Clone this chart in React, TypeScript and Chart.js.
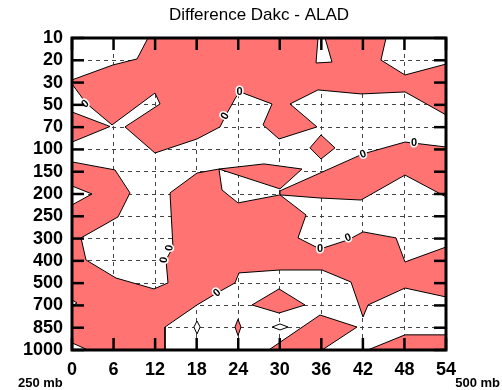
import React, { useEffect, useRef } from "react";
import { Chart, registerables } from "chart.js";
Chart.register(...registerables);

const TITLE = "Difference Dakc - ALAD";
const LEFT_NOTE = "250 mb";
const RIGHT_NOTE = "500 mb";
const HOURS = [0, 6, 12, 18, 24, 30, 36, 42, 48, 54];
const LEVELS = ["10", "20", "30", "50", "70", "100", "150", "200", "250", "300", "400", "500", "700", "850", "1000"];

// Contour polygons, each vertex = [forecast hour, level index (0 = 10 mb)]
const POS_UPPER: [number, number][] = [
  [0, 2.06], [2.02, 2.92], [5.78, 3.9], [11.98, 2.47], [12.71, 2.96], [7.65, 3.99],
  [11.98, 5.16], [18.05, 4.53], [21.37, 3.99], [22.24, 3.45], [23.68, 2.65], [24.26, 2.42],
  [28.88, 2.96], [27.58, 3.9], [29.89, 4.53], [35.37, 3.99], [31.48, 2.96], [35.52, 2.33],
  [41.73, 2.51], [48.08, 2.42], [54, 3.45], [54, 1.17], [48.08, 1.66], [44.61, 0.99],
  [45.34, 0], [10.97, 0], [9.39, 0.94], [5.92, 1.21], [0, 1.88],
];
const POS_LEFT_WEDGE: [number, number][] = [[0, 3.32], [5.49, 3.97], [0, 4.67]];
const POS_MAIN: [number, number][] = [
  [0, 5.56], [6.21, 5.92], [8.37, 6.95], [6.64, 8.03], [1.3, 8.97], [2.02, 9.96],
  [6.35, 10.77], [11.84, 11.26], [13.86, 10.99], [13.57, 9.96], [14.58, 9.38], [14.15, 6.95],
  [18.05, 6.06], [21.22, 5.88], [21.66, 6.82], [23.97, 7.4], [30.03, 7.04], [33.79, 7.94],
  [32.63, 8.97], [35.81, 9.47], [39.85, 9.06], [42.02, 8.7], [46.78, 8.97], [48.08, 10.05],
  [54, 9.38], [54, 11.62], [48.08, 11.22], [42.74, 11.98], [42.02, 12.52], [40.28, 10.95],
  [36.1, 10.41], [30.03, 10.41], [24.11, 10.54], [23.53, 10.99], [20.94, 11.44], [18.05, 11.98],
  [13.43, 12.97], [13.43, 14], [2.31, 14], [0, 13.68], [0, 12.02], [0.72, 11.89], [0, 11.75],
  [0, 7.49], [2.89, 7.0], [0, 6.64],
];
const POS_KITE: [number, number][] = [[21.22, 5.88], [27.72, 5.65], [33.21, 5.88], [30.03, 6.77]];
const POS_BAND: [number, number][] = [
  [30.03, 6.86], [42.02, 5.2], [48.08, 4.67], [54, 4.89], [54, 7.13], [48.08, 6.15],
  [41.73, 7.27], [35.81, 7.18], [30.03, 7.04],
];
const POS_DIAMOND_100: [number, number][] = [[34.36, 4.93], [35.95, 4.35], [37.97, 4.93], [35.95, 5.43]];
const POS_DIAMOND_700: [number, number][] = [[25.99, 11.98], [29.89, 11.26], [33.64, 11.98], [29.89, 12.34]];
const POS_LOWER_MID: [number, number][] = [[28.4, 14], [35.81, 12.43], [41.15, 12.97], [36.1, 14]];
const POS_LOWER_RIGHT: [number, number][] = [[42.7, 14], [48.08, 13.32], [54, 13.32], [54, 14]];
const POS_BLOB_24: [number, number][] = [[23.97, 12.62], [24.4, 12.97], [23.97, 13.35], [23.53, 12.97]];
const NEG_TOP_36: [number, number][] = [[35.52, 0], [36.53, 0], [37.54, 1.08], [35.23, 1.12]];
const NEG_BLOB_18: [number, number][] = [[18.05, 12.7], [18.5, 12.97], [18.05, 13.28], [17.6, 12.97]];
const NEG_BLOB_30: [number, number][] = [[28.9, 12.97], [30.03, 12.83], [31.2, 12.97], [30.03, 13.1]];

// "0" contour labels: [hour, level index, angle in degrees]
const ZERO_LABELS: [number, number, number][] = [
  [1.95, 2.96, -40], [24.2, 2.4, 0], [22.1, 3.5, -60], [42.02, 5.22, -20], [49.38, 4.71, 0],
  [35.81, 9.47, 0], [39.85, 8.97, -20], [14.1, 9.42, -80], [13.3, 9.96, -80], [20.94, 11.44, -40],
];

const RED = "#ff7373";
const WHITE = "#ffffff";

function poly(pts: [number, number][], color: string, order: number) {
  return {
    data: [...pts, pts[0]].map(([x, y]) => ({ x, y })),
    showLine: true,
    fill: "shape",
    backgroundColor: color,
    borderColor: "#000",
    borderWidth: 1,
    pointRadius: 0,
    tension: 0,
    order,
  };
}

const decor = {
  id: "decor",
  afterDraw(chart: any) {
    const { ctx, chartArea: a, scales } = chart;
    const x = scales.x;
    const y = scales.y;
    ctx.save();
    // contour labels
    ctx.font = 'bold 11px "Liberation Sans"';
    ctx.textAlign = "center";
    ctx.textBaseline = "middle";
    ZERO_LABELS.forEach(([h, l, ang]) => {
      ctx.save();
      ctx.translate(x.getPixelForValue(h), y.getPixelForValue(l));
      ctx.rotate((ang * Math.PI) / 180);
      ctx.strokeStyle = "#fff";
      ctx.lineWidth = 3;
      ctx.strokeText("0", 0, 0);
      ctx.fillStyle = "#000";
      ctx.fillText("0", 0, 0);
      ctx.restore();
    });
    // inner tick marks
    ctx.strokeStyle = "#000";
    ctx.lineWidth = 2.5;
    const seg = (x1: number, y1: number, x2: number, y2: number) => {
      ctx.beginPath();
      ctx.moveTo(x1, y1);
      ctx.lineTo(x2, y2);
      ctx.stroke();
    };
    HOURS.forEach((h) => {
      const px = x.getPixelForValue(h);
      seg(px, a.bottom, px, a.bottom - 12);
      seg(px, a.top, px, a.top + 12);
    });
    LEVELS.forEach((_, i) => {
      const py = y.getPixelForValue(i);
      seg(a.left, py, a.left + 12, py);
      seg(a.right, py, a.right - 12, py);
    });
    // frame
    ctx.lineWidth = 3;
    ctx.strokeRect(a.left, a.top, a.right - a.left, a.bottom - a.top);
    // title centred over the plot area
    ctx.font = '17px "Liberation Sans"';
    ctx.fillStyle = "#000";
    ctx.textAlign = "center";
    ctx.textBaseline = "alphabetic";
    ctx.fillText(TITLE, (a.left + a.right) / 2, 20);
    // corner notes
    ctx.font = 'bold 13px "Liberation Sans"';
    ctx.textAlign = "left";
    ctx.fillText(LEFT_NOTE, 18, 387);
    ctx.textAlign = "right";
    ctx.fillText(RIGHT_NOTE, 500, 387);
    ctx.restore();
  },
};

export default function App() {
  const ref = useRef<HTMLCanvasElement>(null);
  useEffect(() => {
    if (!ref.current) return;
    const tickFont = { family: "Liberation Sans", size: 18, weight: "bold" as const };
    const chart = new Chart(ref.current, {
      type: "line",
      data: {
        datasets: [
          poly(POS_MAIN, RED, 5),
          poly(POS_UPPER, RED, 5),
          poly(POS_LEFT_WEDGE, RED, 4),
          poly(POS_KITE, RED, 4),
          poly(POS_BAND, RED, 4),
          poly(POS_DIAMOND_100, RED, 3),
          poly(POS_DIAMOND_700, RED, 3),
          poly(POS_LOWER_MID, RED, 3),
          poly(POS_LOWER_RIGHT, RED, 3),
          poly(POS_BLOB_24, RED, 2),
          poly(NEG_TOP_36, WHITE, 1),
          poly(NEG_BLOB_18, WHITE, 1),
          poly(NEG_BLOB_30, WHITE, 1),
        ] as any,
      },
      options: {
        animation: false,
        responsive: true,
        maintainAspectRatio: false,
        layout: { padding: { left: 0, right: 56, top: 38, bottom: 0 } },
        plugins: {
          legend: { display: false },
          tooltip: { enabled: false },
          title: { display: false },
        },
        scales: {
          x: {
            type: "linear",
            min: 0,
            max: 54,
            z: 1,
            grid: { color: "#444", lineWidth: 1, drawTicks: false },
            border: { display: false, dash: [4, 4] },
            ticks: { stepSize: 6, color: "#000", font: tickFont, padding: 9, maxRotation: 0, autoSkip: false },
            afterFit: (s: any) => {
              s.height = 40;
            },
          },
          y: {
            type: "linear",
            min: 0,
            max: 14,
            reverse: true,
            z: 1,
            grid: { color: "#444", lineWidth: 1, drawTicks: false },
            border: { display: false, dash: [4, 4] },
            ticks: {
              stepSize: 1,
              color: "#000",
              font: tickFont,
              padding: 9,
              autoSkip: false,
              callback: (v: any) => LEVELS[v as number] ?? "",
            },
            afterFit: (s: any) => {
              s.width = 72;
            },
          },
        },
      } as any,
      plugins: [decor],
    });
    return () => chart.destroy();
  }, []);
  return (
    <div style={{ position: "absolute", left: 0, top: 0, width: 502, height: 390, background: "#fff" }}>
      <canvas ref={ref} />
    </div>
  );
}
